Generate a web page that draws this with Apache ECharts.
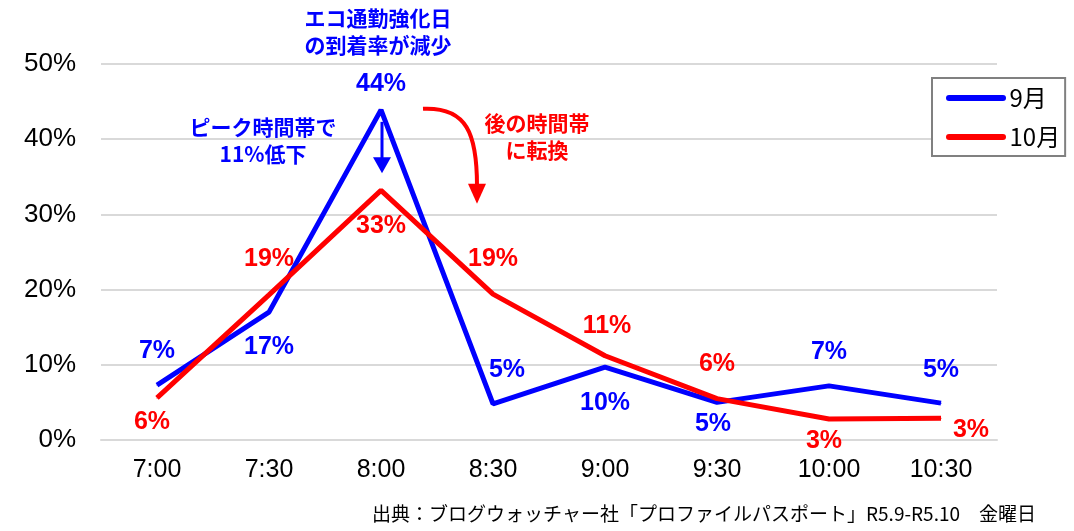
<!DOCTYPE html>
<html>
<head>
<meta charset="utf-8">
<script src="https://cdn.jsdelivr.net/npm/echarts@6/dist/echarts.min.js"></script>
<style>
html,body{margin:0;padding:0;background:#fff;}
#chart{width:1074px;height:531px;}
</style>
</head>
<body>
<div id="chart"></div>
<script>
// ---- data ----
const categories = ['7:00', '7:30', '8:00', '8:30', '9:00', '9:30', '10:00', '10:30'];
const seriesNames = ['9月', '10月'];
const sepValues = [7.3, 17.0, 43.9, 4.8, 9.7, 5.0, 7.2, 4.9];   // 9月 (%)
const octValues = [5.6, 19.3, 33.2, 19.4, 11.2, 5.5, 2.8, 2.9]; // 10月 (%)
const yMin = 0, yMax = 50, yStep = 10;
const sourceText = '出典：ブログウォッチャー社「プロファイルパスポート」R5.9-R5.10　金曜日';
const noteTop = 'エコ通勤強化日\nの到着率が減少';
const noteLeft = 'ピーク時間帯で\n11%低下';
const noteRight = '後の時間帯\nに転換';

// ---- label placement (style) ----
const sepLabelOffsets = [[0,-34],[0,35],[0,-26],[14,-34],[0,36],[-4,22],[0,-34],[0,-33]];
const octLabelOffsets = [[-5,24],[0,-36],[0,36],[0,-35],[2,-30],[0,-35],[-5,22],[30,12]];

const BLUE = '#0000FF', RED = '#FF0000';
const CJK = '"Noto Sans CJK JP", "Liberation Sans", sans-serif';
const SANS = '"Liberation Sans", Arial, sans-serif';

function buildData(values, offsets, color) {
  return values.map((v, i) => ({
    value: v,
    label: {
      show: true,
      position: 'inside',
      offset: offsets[i],
      formatter: Math.round(v) + '%',
      color: color,
      fontSize: 25,
      fontWeight: 'bold',
      fontFamily: SANS
    }
  }));
}

const legendIcon = 'path://M3,0 L57,0 A3,3 0 0 1 57,6 L3,6 A3,3 0 0 1 3,0 Z';

const chart = echarts.init(document.getElementById('chart'), null, {renderer: 'canvas'});
const option = {
  animation: false,
  backgroundColor: '#ffffff',
  grid: {left: 101, right: 77, top: 64, bottom: 91, containLabel: false},
  legend: {
    orient: 'vertical',
    left: 932,
    top: 78,
    padding: [8, 5, 7, 14],
    itemGap: 15,
    itemWidth: 61,
    itemHeight: 6,
    borderColor: '#808080',
    borderWidth: 2,
    backgroundColor: '#ffffff',
    textStyle: {fontSize: 24, color: '#000', fontFamily: CJK, padding: [0, 0, 0, -2]},
    data: [
      {name: seriesNames[0], icon: legendIcon, itemStyle: {color: BLUE}},
      {name: seriesNames[1], icon: legendIcon, itemStyle: {color: RED}}
    ]
  },
  xAxis: {
    type: 'category',
    data: categories,
    boundaryGap: true,
    axisLine: {show: true, lineStyle: {color: '#d9d9d9', width: 2}},
    axisTick: {show: false},
    axisLabel: {fontSize: 25, color: '#000', fontFamily: SANS, margin: 18}
  },
  yAxis: {
    type: 'value',
    min: yMin,
    max: yMax,
    interval: yStep,
    axisLine: {show: false},
    axisTick: {show: false},
    axisLabel: {formatter: '{value}%', fontSize: 26, color: '#000', fontFamily: SANS, margin: 25},
    splitLine: {lineStyle: {color: '#d9d9d9', width: 2}}
  },
  series: [
    {
      name: seriesNames[0],
      type: 'line',
      data: buildData(sepValues, sepLabelOffsets, BLUE),
      symbol: 'circle',
      symbolSize: 1,
      showSymbol: true,
      itemStyle: {color: BLUE},
      lineStyle: {color: BLUE, width: 5},
      z: 2
    },
    {
      name: seriesNames[1],
      type: 'line',
      data: buildData(octValues, octLabelOffsets, RED),
      symbol: 'circle',
      symbolSize: 1,
      showSymbol: true,
      itemStyle: {color: RED},
      lineStyle: {color: RED, width: 5},
      z: 3
    }
  ]
};
chart.setOption(option);

// ---- annotations anchored to data points ----
const peakIdx = sepValues.indexOf(Math.max(...sepValues));
const pBlue = chart.convertToPixel({xAxisIndex: 0, yAxisIndex: 0}, [peakIdx, sepValues[peakIdx]]);
const pRed = chart.convertToPixel({xAxisIndex: 0, yAxisIndex: 0}, [peakIdx, octValues[peakIdx]]);
const ax = pBlue[0] + 1;
const arrowTop = pBlue[1] + 12;
const arrowTip = pRed[1] - 17;

// red curved arrow start/end relative to peak
const rs = [pBlue[0] + 42, pBlue[1] - 1];
const re = [pBlue[0] + 96, pBlue[1] + 76];
const rtip = [re[0], re[1] + 18];

const noteStyle = (color) => ({
  fill: color,
  fontSize: 21,
  fontWeight: 'bold',
  fontFamily: CJK,
  align: 'center',
  verticalAlign: 'middle',
  lineHeight: 27
});

chart.setOption({
  graphic: [
    {type: 'text', style: Object.assign({text: noteTop, x: pBlue[0] - 3, y: 32}, noteStyle(BLUE))},
    {type: 'text', style: Object.assign({text: noteLeft, x: 263, y: 141}, noteStyle(BLUE))},
    {type: 'text', style: Object.assign({text: noteRight, x: 537, y: 137}, noteStyle(RED))},
    // blue arrow
    {type: 'line', shape: {x1: ax, y1: arrowTop, x2: ax, y2: arrowTip - 14}, style: {stroke: BLUE, lineWidth: 3}},
    {type: 'polygon', shape: {points: [[ax - 9, arrowTip - 16], [ax + 9, arrowTip - 16], [ax, arrowTip]]}, style: {fill: BLUE}},
    // red curved arrow
    {type: 'bezierCurve', shape: {x1: rs[0], y1: rs[1], cpx1: re[0] - 10, cpy1: rs[1] - 2, cpx2: re[0], cpy2: rs[1] + 25, x2: re[0], y2: re[1]}, style: {stroke: RED, lineWidth: 4, fill: null}},
    {type: 'polygon', shape: {points: [[re[0] - 9, re[1] - 2], [re[0] + 9, re[1] - 2], rtip]}, style: {fill: RED}},
    // source
    {type: 'text', style: {text: sourceText, x: 1036, y: 514, align: 'right', verticalAlign: 'middle', fill: '#000', fontSize: 19, fontFamily: CJK}}
  ]
});
</script>
</body>
</html>
